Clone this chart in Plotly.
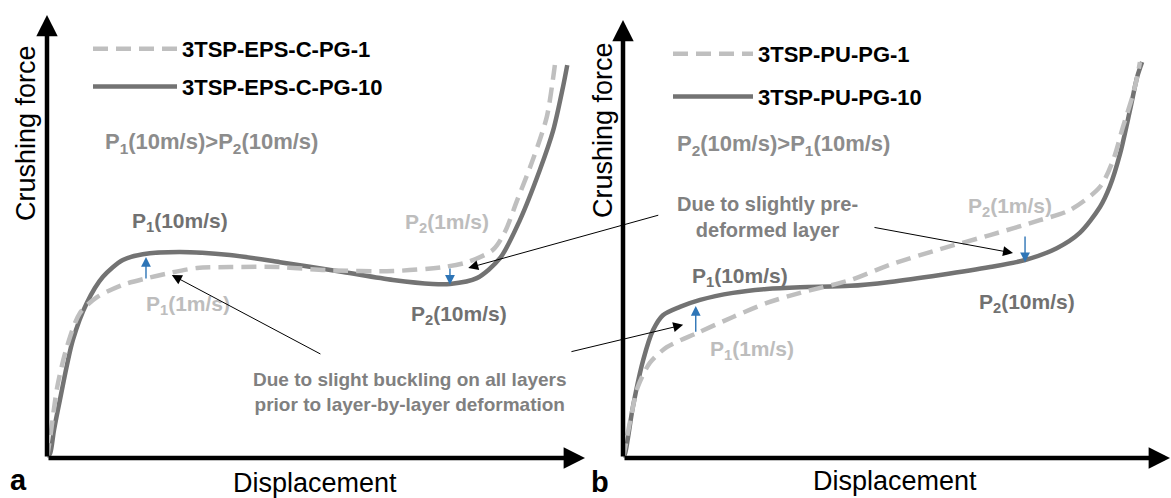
import plotly.graph_objects as go

# ---- Panel a: 3TSP-EPS-C (normalised displacement / crushing force) ----
a_pg1_x = [0, 0.7, 1.9, 3.7, 6.1, 9.3, 14.1, 18.6, 22.9, 27.9, 34.0, 43.3, 52.0,
           64.3, 73.6, 78.1, 82.9, 85.1, 87.4, 90.3, 92.9, 94.1, 94.4]
a_pg1_y = [0, 5.6, 16.0, 25.1, 32.7, 36.3, 39.1, 40.6, 41.8, 42.9, 43.1, 43.1, 42.4,
           42.2, 43.1, 44.2, 47.0, 51.0, 58.2, 67.3, 77.0, 86.0, 88.7]
a_pg10_x = [0, 0.6, 1.3, 2.4, 4.8, 7.4, 10.4, 14.1, 17.8, 24.7, 34.0, 43.3, 55.0,
            64.3, 71.7, 74.9, 79.9, 84.2, 87.9, 91.6, 94.1, 95.9, 96.7]
a_pg10_y = [0, 1.1, 6.3, 13.1, 26.6, 35.0, 40.9, 44.7, 46.0, 46.5, 45.8, 44.2, 42.0,
            40.2, 39.3, 39.3, 40.6, 45.1, 53.7, 65.0, 74.0, 83.7, 88.7]

# ---- Panel b: 3TSP-PU ----
b_pg1_x = [0, 0.4, 1.6, 2.7, 4.9, 8.0, 13.5, 20.1, 26.3, 32.4, 41.5, 48.8, 58.0,
           67.1, 76.2, 81.7, 87.2, 89.6, 91.4, 93.1, 94.0, 94.5]
b_pg1_y = [0, 2.5, 10.3, 16.2, 21.7, 25.3, 28.5, 32.2, 35.4, 37.7, 40.6, 44.1, 47.7,
           50.9, 54.3, 56.6, 61.9, 68.0, 75.6, 82.4, 87.0, 90.4]
b_pg10_x = [0, 0.4, 1.8, 3.7, 5.5, 7.3, 10.4, 14.1, 20.1, 26.3, 32.4, 41.5, 48.8,
            58.0, 67.1, 73.5, 79.3, 83.5, 87.2, 89.0, 90.9, 92.7, 94.0, 94.9]
b_pg10_y = [0, 1.1, 11.6, 22.4, 29.2, 32.6, 34.5, 36.1, 37.7, 38.6, 39.0, 39.3, 40.2,
            41.8, 43.6, 45.2, 47.9, 51.4, 57.3, 62.0, 69.6, 79.5, 87.0, 90.4]

series_names_a = ["3TSP-EPS-C-PG-1", "3TSP-EPS-C-PG-10"]
series_names_b = ["3TSP-PU-PG-1", "3TSP-PU-PG-10"]

FONT = "Liberation Sans, Arial, sans-serif"
DASH_C = "#bfbfbf"
SOLID_C = "#737373"
LABEL_DARK = "#717171"
LABEL_LIGHT = "#bdbdbd"
NOTE_C = "#808080"
BLUE = "#2e75b6"

fig = go.Figure()

def add_pair(xd, yd, xs, ys, names, xa, ya, leg):
    fig.add_trace(go.Scatter(
        x=xs, y=ys, mode="lines", name=names[1], xaxis=xa, yaxis=ya,
        line=dict(color=SOLID_C, width=4.5, shape="spline", smoothing=0.8),
        legend=leg, legendgroup=leg + "s", legendrank=2, hoverinfo="skip"))
    fig.add_trace(go.Scatter(
        x=xd, y=yd, mode="lines", name=names[0], xaxis=xa, yaxis=ya,
        line=dict(color=DASH_C, width=4.5, dash="15px,8px", shape="spline", smoothing=0.8),
        legend=leg, legendgroup=leg + "d", legendrank=1, hoverinfo="skip"))

add_pair(a_pg1_x, a_pg1_y, a_pg10_x, a_pg10_y, series_names_a, "x", "y", "legend")
add_pair(b_pg1_x, b_pg1_y, b_pg10_x, b_pg10_y, series_names_b, "x2", "y2", "legend2")

ann = []

def axis_arrows(xr, yr):
    for (tx, ty) in [(100, 0), (0, 100)]:
        ann.append(dict(x=tx, y=ty, ax=0, ay=0, xref=xr, yref=yr, axref=xr, ayref=yr,
                        text="", showarrow=True, arrowhead=2, arrowsize=0.95,
                        arrowwidth=4.5, arrowcolor="black", standoff=0))

axis_arrows("x", "y")
axis_arrows("x2", "y2")

def label(x, y, text, color, size=21, xr="x", yr="y", bold=True, anchor="center"):
    ann.append(dict(x=x, y=y, xref=xr, yref=yr, text=(f"<b>{text}</b>" if bold else text),
                    showarrow=False, xanchor=anchor, yanchor="middle",
                    font=dict(family=FONT, size=size, color=color)))

def arrow(x, y, ax, ay, color, width, size, xr="x", yr="y"):
    ann.append(dict(x=x, y=y, ax=ax, ay=ay, xref=xr, yref=yr, axref=xr, ayref=yr,
                    text="", showarrow=True, arrowhead=2, arrowsize=size,
                    arrowwidth=width, arrowcolor=color, standoff=0))

# Panel a labels
label(24.7, 53.3, "P<sub>1</sub>(10m/s)", LABEL_DARK)
label(26.2, 34.5, "P<sub>1</sub>(1m/s)", LABEL_LIGHT)
label(74.3, 53.0, "P<sub>2</sub>(1m/s)", LABEL_LIGHT)
label(76.5, 32.3, "P<sub>2</sub>(10m/s)", LABEL_DARK)
label(30.5, 71.1, "P<sub>1</sub>(10m/s)>P<sub>2</sub>(10m/s)", "#8c8c8c", size=22)
label(67.5, 14.9, "Due to slight buckling on all layers<br>prior to layer-by-layer deformation",
      NOTE_C, size=19)
arrow(18.4, 45.4, 18.4, 40.2, BLUE, 1.4, 1.4)
arrow(74.9, 39.1, 74.9, 43.1, BLUE, 1.4, 1.4)
arrow(23.2, 41.3, 51.1, 23.3, "black", 1, 2.0)
arrow(78.3, 42.9, 113.9, 54.9, "black", 1, 2.0)

# Panel b labels
label(21.4, 41.3, "P<sub>1</sub>(10m/s)", LABEL_DARK, xr="x2", yr="y2")
label(23.6, 24.7, "P<sub>1</sub>(1m/s)", LABEL_LIGHT, xr="x2", yr="y2")
label(70.7, 57.3, "P<sub>2</sub>(1m/s)", LABEL_LIGHT, xr="x2", yr="y2")
label(73.9, 35.4, "P<sub>2</sub>(10m/s)", LABEL_DARK, xr="x2", yr="y2")
label(29.3, 71.5, "P<sub>2</sub>(10m/s)>P<sub>1</sub>(10m/s)", "#8c8c8c", size=22, xr="x2", yr="y2")
label(9.5, 55.0, "Due to slightly pre-<br>deformed layer", NOTE_C, size=20,
      xr="x2", yr="y2", anchor="left")
arrow(13.3, 34.7, 13.3, 28.5, BLUE, 1.4, 1.4, "x2", "y2")
arrow(73.5, 44.7, 73.5, 50.9, BLUE, 1.4, 1.4, "x2", "y2")
arrow(71.3, 46.8, 45.7, 52.7, "black", 1, 2.0, "x2", "y2")
arrow(11.0, 30.4, -9.7, 24.2, "black", 1, 2.0, "x2", "y2")

# Axis titles and panel letters
def paper_text(xc, yc, text, size, angle=0):
    ann.append(dict(x=xc / 1171, y=1 - yc / 498, xref="paper", yref="paper", text=text,
                    textangle=angle, showarrow=False, xanchor="center", yanchor="middle",
                    font=dict(family=FONT, size=size, color="black")))

paper_text(315, 483, "Displacement", 27)
paper_text(895, 481, "Displacement", 27)
paper_text(26, 133, "Crushing force", 27, -90)
paper_text(603, 130, "Crushing force", 27, -90)
paper_text(18, 480, "<b>a</b>", 29)
paper_text(600, 482, "<b>b</b>", 29)

hidden = dict(visible=False, range=[0, 100], fixedrange=True)
legend_font = dict(family=FONT, size=22, color="black", weight="bold")
fig.update_layout(
    width=1171, height=498,
    margin=dict(l=0, r=0, t=0, b=0),
    paper_bgcolor="white", plot_bgcolor="white",
    xaxis=dict(hidden, domain=[47 / 1171, 585 / 1171], anchor="y"),
    yaxis=dict(hidden, domain=[40 / 498, 483 / 498], anchor="x"),
    xaxis2=dict(hidden, domain=[623 / 1171, 1170 / 1171], anchor="y2"),
    yaxis2=dict(hidden, domain=[40 / 498, 478 / 498], anchor="x2"),
    annotations=ann,
    legend=dict(x=88 / 1171, y=1 - 28 / 498, xanchor="left", yanchor="top",
                bgcolor="rgba(0,0,0,0)", tracegroupgap=6, itemwidth=84,
                font=legend_font),
    legend2=dict(x=668 / 1171, y=1 - 33 / 498, xanchor="left", yanchor="top",
                 bgcolor="rgba(0,0,0,0)", tracegroupgap=11, itemwidth=80,
                 font=legend_font),
    showlegend=True,
)

fig.write_html("out.html")
